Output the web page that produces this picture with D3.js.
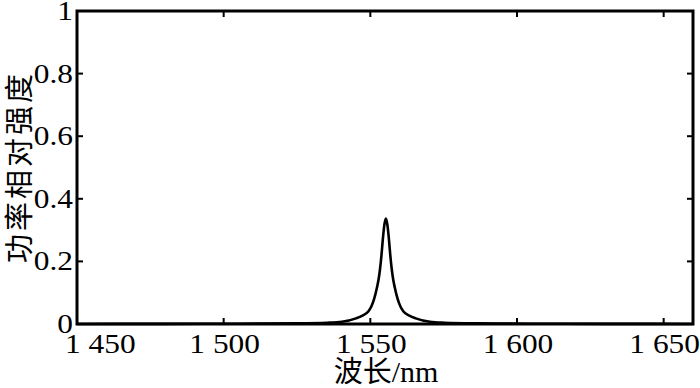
<!DOCTYPE html>
<html><head><meta charset="utf-8">
<script src="https://cdn.jsdelivr.net/npm/d3@7"></script>
<style>body{margin:0;background:#fff}svg{display:block}</style>
</head><body>
<script>
// Data (wavelength in nm, relative power)
const wavelengths = [1450, 1480, 1505, 1525, 1535.3, 1540.3, 1545.1, 1547.3, 1549.3, 1550.3, 1551.3, 1552.3, 1552.8, 1553.3, 1553.8, 1554.3, 1554.8, 1555.3, 1555.8, 1556.3, 1556.8, 1557.3, 1557.8, 1558.3, 1559.3, 1560.3, 1561.3, 1563.3, 1565.5, 1570.3, 1575.3, 1585.3, 1605, 1630, 1660];
const power       = [0, 0.0005, 0.001, 0.002, 0.004, 0.007, 0.018, 0.027, 0.040, 0.055, 0.080, 0.118, 0.142, 0.175, 0.220, 0.275, 0.318, 0.337, 0.318, 0.275, 0.220, 0.175, 0.142, 0.118, 0.080, 0.055, 0.040, 0.027, 0.018, 0.007, 0.004, 0.002, 0.001, 0.0005, 0];
const xTicks = [1450, 1500, 1550, 1600, 1650];
const xTickLabels = ["1 450", "1 500", "1 550", "1 600", "1 650"];
const yTicks = [0, 0.2, 0.4, 0.6, 0.8, 1];
const yTickLabels = ["0", "0.2", "0.4", "0.6", "0.8", "1"];
const xTitle = "波长/nm";
const yTitle = "功率相对强度";

const W = 700, H = 388;
const L = 77, R = 693, T = 11, B = 324;
const svg = d3.select("body").append("svg").attr("width", W).attr("height", H);
const x = d3.scaleLinear().domain([1450, 1660]).range([L, R]);
const y = d3.scaleLinear().domain([0, 1]).range([B, T]);
const numFont = "'Liberation Serif','Times New Roman',serif";
const cjkFont = "'Noto Sans CJK SC','Liberation Serif',serif";
const widen = 1.12;

function stretch(sel){
  sel.each(function(){
    const w = this.getComputedTextLength();
    d3.select(this).attr("textLength", w*widen).attr("lengthAdjust","spacingAndGlyphs");
  });
}

// curve
const line = d3.line().x((d,i)=>x(wavelengths[i])).y(d=>y(d)).curve(d3.curveMonotoneX);
svg.append("path").datum(power).attr("d", line)
  .attr("fill","none").attr("stroke","#000").attr("stroke-width",2.6).attr("stroke-linejoin","round");

// ticks (inward, mirrored)
const tl = 6;
const g = svg.append("g").attr("stroke","#000").attr("stroke-width",2);
xTicks.forEach(t=>{
  g.append("line").attr("x1",x(t)).attr("x2",x(t)).attr("y1",B).attr("y2",B-tl);
  g.append("line").attr("x1",x(t)).attr("x2",x(t)).attr("y1",T).attr("y2",T+tl);
});
yTicks.forEach(t=>{
  g.append("line").attr("x1",L).attr("x2",L+tl).attr("y1",y(t)).attr("y2",y(t));
  g.append("line").attr("x1",R).attr("x2",R-tl).attr("y1",y(t)).attr("y2",y(t));
});

// box
svg.append("rect").attr("x",L).attr("y",T).attr("width",R-L).attr("height",B-T)
  .attr("fill","none").attr("stroke","#000").attr("stroke-width",3);

// x tick labels
xTicks.forEach((t,i)=>{
  const first = i===0;
  const tx = svg.append("text").attr("x", first ? x(t)-12 : x(t)+1).attr("y", 353)
    .attr("text-anchor", first ? "start" : "middle")
    .attr("font-family",numFont).attr("font-size",28).text(xTickLabels[i]);
  stretch(tx);
});
// y tick labels
yTicks.forEach((t,i)=>{
  const ty = svg.append("text").attr("x", 73).attr("y", y(t)+9)
    .attr("text-anchor","end")
    .attr("font-family",numFont).attr("font-size",28).text(yTickLabels[i]);
  stretch(ty);
});

// x title
const xt = svg.append("text").attr("x",386).attr("y",382).attr("text-anchor","middle");
xt.append("tspan").attr("font-family",cjkFont).attr("font-size",29).text("波长");
xt.append("tspan").attr("font-family",numFont).attr("font-size",30).text("/nm");

// y title
svg.append("text").attr("transform","translate(30,167) rotate(-90)")
  .attr("text-anchor","middle").attr("font-family",cjkFont).attr("font-size",29)
  .attr("letter-spacing",3).text(yTitle);
</script>
</body></html>
